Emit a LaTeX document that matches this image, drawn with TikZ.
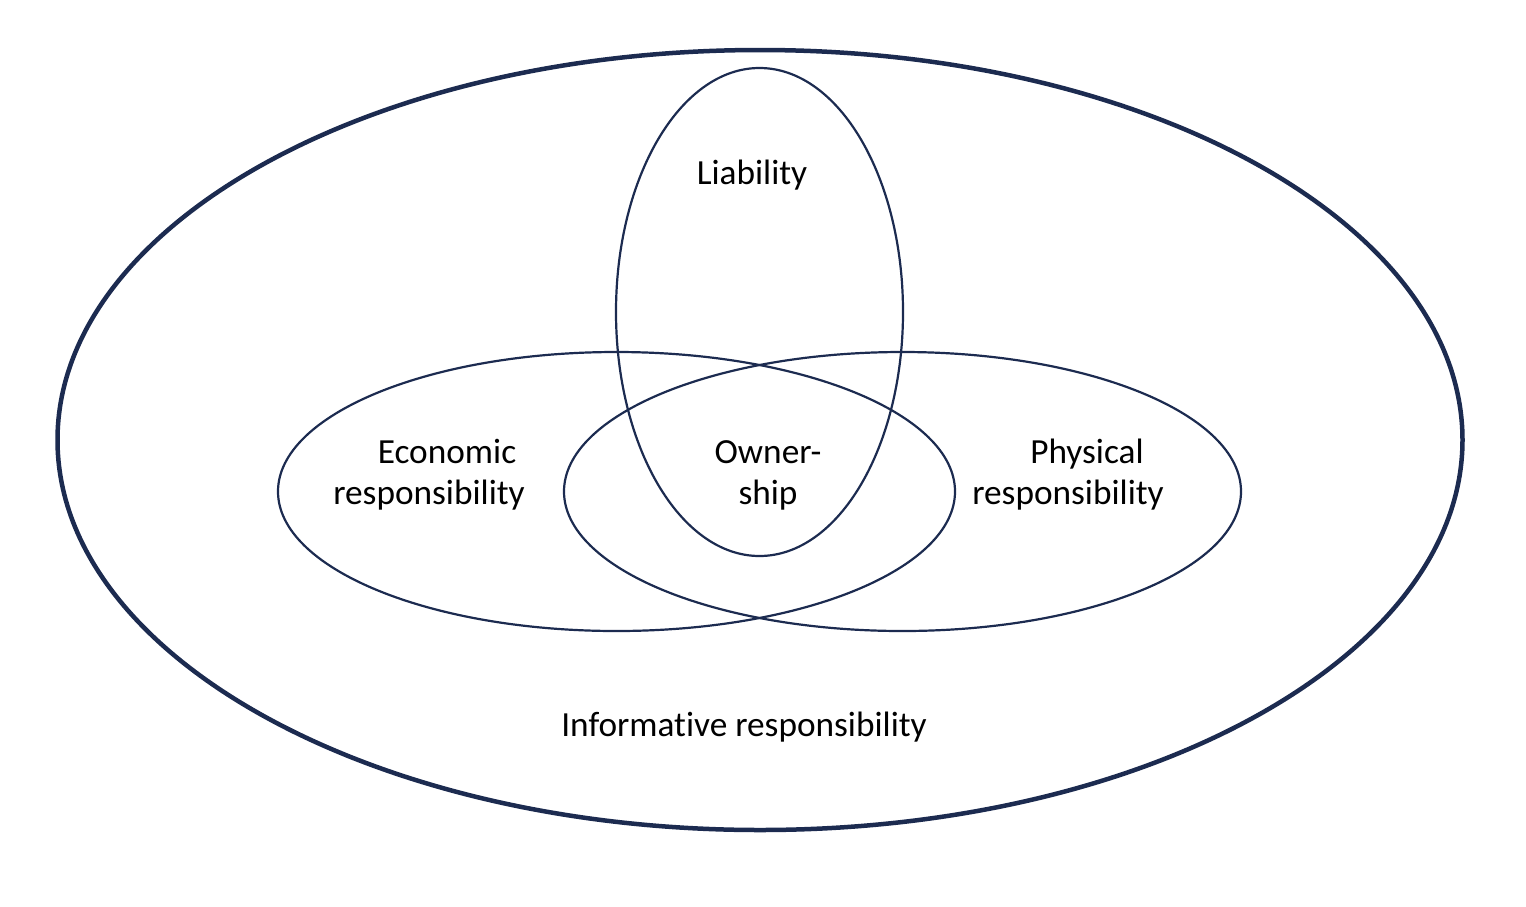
\documentclass[tikz,border=0pt]{standalone}
\usepackage{fontspec}
\setmainfont[Ligatures={NoCommon}]{Carlito}
\usetikzlibrary{shapes.geometric}
\definecolor{navy}{HTML}{1C2B50}
\begin{document}
\begin{tikzpicture}[x=1pt,y=-1pt,
  ring/.style={draw=navy,ellipse,inner sep=0pt,line width=2.2pt},
  bigring/.style={draw=navy,ellipse,inner sep=0pt,line width=4.5pt},
  lbl/.style={font=\fontsize{35.3}{41}\selectfont,text=black,align=center,inner sep=0pt}]
\useasboundingbox (0,0) rectangle (1526,906);
\node[bigring,minimum width=1405pt,minimum height=780pt] (outer) at (760,440) {};
\node[ring,minimum width=287pt,minimum height=488pt] (liab) at (759.5,312) {};
\node[ring,minimum width=677pt,minimum height=279pt] (econ) at (616.5,491.5) {};
\node[ring,minimum width=677pt,minimum height=279pt] (phys) at (902.5,491.5) {};
\node[lbl] (tliab) at (752,175) {Liability};
\node[lbl,anchor=base] (te1) at (447,463) {Economic};
\node[lbl,anchor=base] (te2) at (429,504) {responsibility};
\node[lbl,anchor=base] (to1) at (768,463) {Owner-};
\node[lbl,anchor=base] (to2) at (768,504) {ship};
\node[lbl,anchor=base] (tp1) at (1087,463) {Physical};
\node[lbl,anchor=base] (tp2) at (1068,504) {responsibility};
\node[lbl,anchor=base] (tinf) at (744,736) {Informative responsibility};
\end{tikzpicture}
\end{document}
